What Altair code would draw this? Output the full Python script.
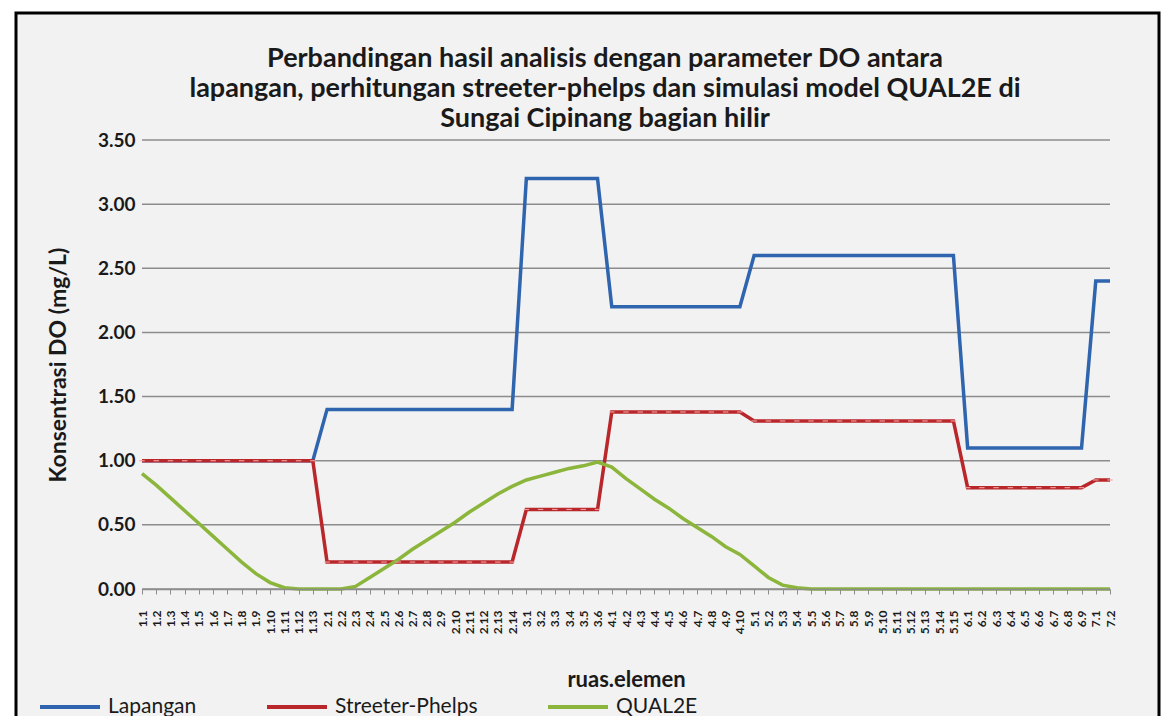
import altair as alt
import pandas as pd

labels = [
    "1.1", "1.2", "1.3", "1.4", "1.5", "1.6", "1.7", "1.8", "1.9", "1.10", "1.11", "1.12", "1.13",
    "2.1", "2.2", "2.3", "2.4", "2.5", "2.6", "2.7", "2.8", "2.9", "2.10", "2.11", "2.12", "2.13", "2.14",
    "3.1", "3.2", "3.3", "3.4", "3.5", "3.6",
    "4.1", "4.2", "4.3", "4.4", "4.5", "4.6", "4.7", "4.8", "4.9", "4.10",
    "5.1", "5.2", "5.3", "5.4", "5.5", "5.6", "5.7", "5.8", "5.9", "5.10", "5.11", "5.12", "5.13", "5.14", "5.15",
    "6.1", "6.2", "6.3", "6.4", "6.5", "6.6", "6.7", "6.8", "6.9",
    "7.1", "7.2",
]

lapangan = (
    [1.00] * 13 + [1.40] * 14 + [3.20] * 6 + [2.20] * 10 + [2.60] * 15 + [1.10] * 9 + [2.40] * 2
)
streeter = (
    [1.00] * 13 + [0.21] * 14 + [0.62] * 6 + [1.38] * 10 + [1.31] * 15 + [0.79] * 9 + [0.85] * 2
)
qual2e = [
    0.90, 0.81, 0.71, 0.61, 0.51, 0.41, 0.31, 0.21, 0.12, 0.05, 0.01, 0.00, 0.00,
    0.00, 0.00, 0.02, 0.09, 0.16, 0.23, 0.31, 0.38, 0.45, 0.52, 0.60, 0.67, 0.74, 0.80,
    0.85, 0.88, 0.91, 0.94, 0.96, 0.99,
    0.95, 0.86, 0.78, 0.70, 0.63, 0.55, 0.48, 0.41, 0.33, 0.27,
    0.18, 0.09, 0.03, 0.01, 0.00, 0.00, 0.00, 0.00, 0.00, 0.00, 0.00, 0.00, 0.00, 0.00, 0.00,
    0.00, 0.00, 0.00, 0.00, 0.00, 0.00, 0.00, 0.00, 0.00,
    0.00, 0.00,
]

series_names = ["Lapangan", "Streeter-Phelps", "QUAL2E"]
series_colors = ["#2F64AE", "#B9272B", "#8BB53B"]
y_ticks = [0.0, 0.5, 1.0, 1.5, 2.0, 2.5, 3.0, 3.5]
title_lines = [
    "Perbandingan hasil analisis dengan parameter DO antara",
    "lapangan, perhitungan streeter-phelps dan simulasi model QUAL2E di",
    "Sungai Cipinang  bagian hilir",
]

rows = []
for name, vals in zip(series_names, [lapangan, streeter, qual2e]):
    for i, (lab, v) in enumerate(zip(labels, vals)):
        rows.append({"series": name, "ruas": lab, "value": v, "order": i})
df = pd.DataFrame(rows)

FONT = "Lato"
TXT = "#1a1a1a"

x_enc = alt.X(
    "ruas:N",
    sort=labels,
    scale=alt.Scale(type="point", padding=0),
    axis=alt.Axis(
        title="ruas.elemen",
        labelAngle=-90,
        labelFont=FONT,
        labelFontSize=12,
        labelFontWeight="bold",
        labelColor=TXT,
        labelPadding=16,
        labelOverlap=False,
        tickSize=5,
        tickColor="#8C8C8C",
        tickWidth=1,
        domainColor="#8C8C8C",
        domainWidth=1.5,
        titleFont=FONT,
        titleFontSize=22,
        titleFontWeight="bold",
        titleColor=TXT,
        titleY=90,
        titleBaseline="middle",
        zindex=1,
    ),
)

y_axis = alt.Axis(
    values=y_ticks,
    format=".2f",
    grid=False,
    domain=False,
    ticks=False,
    labelPadding=7,
    labelFont=FONT,
    labelFontSize=19,
    labelFontWeight="bold",
    labelColor=TXT,
    title="Konsentrasi DO (mg/L)",
    titleFont=FONT,
    titleFontSize=23,
    titleFontWeight="bold",
    titleColor=TXT,
    titleX=-84,
    titleBaseline="middle",
    zindex=1,
)
y_enc = alt.Y("value:Q", scale=alt.Scale(domain=[0, 3.5], nice=False), axis=y_axis)

color_enc = alt.Color(
    "series:N",
    scale=alt.Scale(domain=series_names, range=series_colors),
    legend=alt.Legend(
        title=None,
        orient="none",
        direction="horizontal",
        legendX=-104,
        legendY=535,
        symbolType="stroke",
        symbolSize=3600,
        symbolStrokeWidth=4,
        labelFont=FONT,
        labelFontSize=21,
        labelColor=TXT,
        columnPadding=62,
        labelOffset=6,
        zindex=1,
    ),
)

frame = alt.Chart(pd.DataFrame({"k": [0]})).mark_rect(
    fill="#F2F2F2", stroke="#000000", strokeWidth=3
).encode(x=alt.value(-126), x2=alt.value(1017), y=alt.value(-127), y2=alt.value(640))

grid = alt.Chart(pd.DataFrame({"value": y_ticks})).mark_rule(
    color="#8C8C8C", strokeWidth=1.5
).encode(y=y_enc)

lines = alt.Chart(df).mark_line(strokeWidth=3.5).encode(
    x=x_enc, y=y_enc, color=color_enc, order="order:Q"
)

markers = alt.Chart(df).transform_filter(
    alt.datum.series == "Streeter-Phelps"
).mark_point(shape="stroke", size=30, strokeWidth=1.2, color="#F2A5A5", opacity=0.9).encode(
    x=x_enc, y=y_enc
)

chart = alt.layer(frame, grid, lines, markers).properties(
    width=968,
    height=449,
    padding={"left": 134, "top": 132, "right": 54, "bottom": 127},
    autosize=alt.AutoSizeParams(type="none"),
    background="white",
    title=alt.TitleParams(
        text=title_lines,
        font=FONT,
        fontSize=27,
        fontWeight="bold",
        color=TXT,
        lineHeight=30,
        anchor="middle",
        dx=-21,
        dy=129,
        offset=8,
        zindex=1,
    ),
).configure_view(stroke=None)

chart.save("out.html", embed_options={"renderer": "svg", "actions": False})
